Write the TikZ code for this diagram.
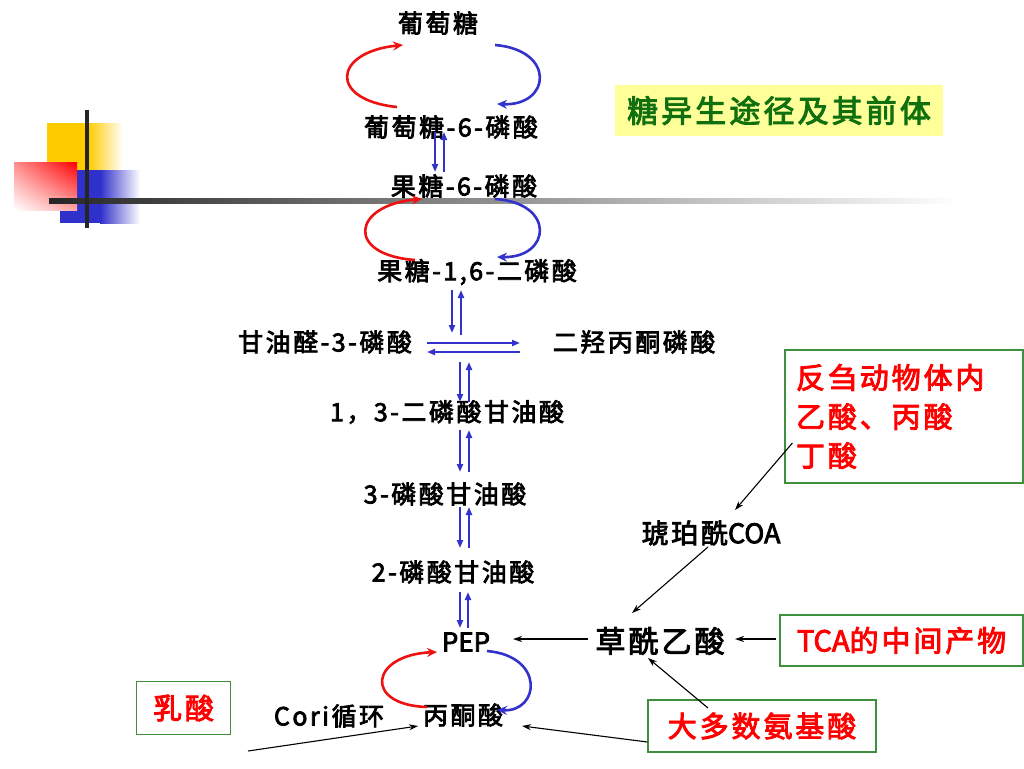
\documentclass[tikz,border=0pt]{standalone}
\usepackage{fontspec}
\newfontfamily\cjk{Noto Sans CJK SC}[FakeBold=3,LetterSpace=10]
\newfontfamily\cjkn{Noto Sans CJK SC}[FakeBold=3]
\usetikzlibrary{arrows.meta,calc,shadings}
\definecolor{pblue}{HTML}{3333CC}
\definecolor{pred}{HTML}{EE1111}
\definecolor{tred}{HTML}{FF0000}
\definecolor{tgreen}{HTML}{107010}
\definecolor{bgreen}{HTML}{3F8F3F}
\definecolor{tyellow}{HTML}{FFFF99}
\definecolor{dyellow}{HTML}{FFCC00}
\definecolor{dblue}{HTML}{3030CC}
\begin{document}
\begin{tikzpicture}[x=1pt,y=-1pt,
  lbl/.style={font=\cjk\fontsize{25}{25}\selectfont, inner sep=0pt, anchor=center},
  gbox/.style={draw=bgreen, line width=1.2pt, fill=white, font=\cjk\fontsize{29}{29}\selectfont, text=tred, inner sep=0pt},
  rarc/.style={draw=pred, line width=2.6pt, -{Stealth[length=10pt,width=9pt]}},
  barc/.style={draw=pblue, line width=2.6pt, -{Stealth[length=10pt,width=9pt]}},
  varrow/.style={draw=pblue, line width=2.2pt, -{Triangle[length=8pt,width=6pt]}},
  blk/.style={draw=black, line width=1.1pt, -{Stealth[length=9pt,width=6pt]}}
]
\useasboundingbox (0,0) rectangle (1024,768);
% decoration
\fill[dyellow] (47,123) rectangle (88,170);
\shade[left color=dyellow, right color=white] (88,123) rectangle (123,170);
\fill[dblue] (60,170) rectangle (100,223);
\shade[left color=dblue, right color=white] (100,170) rectangle (140,223);
\shade[upper left=red!45, upper right=red, lower left=white, lower right=red!35] (14,162) rectangle (77,210);
\shade[left color=black!85, right color=white] (49,198.5) rectangle (960,203.5);
\fill[black!85] (85,110) rectangle (89,228);
% title
\node[fill=tyellow, minimum width=328pt, minimum height=51pt, inner sep=0pt, text=tgreen, font=\cjk\fontsize{31}{31}\selectfont] (title) at (779,110.5) {糖异生途径及其前体};
% labels
\node[lbl] (glc) at (438,23) {葡萄糖};
\node[lbl] (g6p) at (451,127) {葡萄糖-6-磷酸};
\node[lbl] (f6p) at (464,186) {果糖-6-磷酸};
\node[lbl] (fbp) at (477,272) {果糖-1,6-二磷酸};
\node[lbl] (gap) at (325,342) {甘油醛-3-磷酸};
\node[lbl] (dhap) at (634,342) {二羟丙酮磷酸};
\node[lbl] (bpg) at (447,412) {1，3-二磷酸甘油酸};
\node[lbl] (pgaa) at (445,494) {3-磷酸甘油酸};
\node[lbl] (pgab) at (453,572) {2-磷酸甘油酸};
\node[lbl, font=\cjkn\fontsize{26}{26}\selectfont] (pep) at (466,642) {PEP};
\node[lbl] (pyr) at (463,715) {丙酮酸};
\node[lbl] (cori) at (329,716) {Cori循环};
\node[lbl, font=\cjk\fontsize{30}{30}\selectfont] (oaa) at (660,641) {草酰乙酸};
\node[lbl, font=\cjk\fontsize{27}{27}\selectfont] (succ) at (711,533) {琥珀酰{\cjkn COA}};
% boxes
\node[gbox, minimum width=243pt, minimum height=51pt] (tca) at (901.5,640.5) {{\cjkn TCA}的中间产物};
\node[gbox, minimum width=228pt, minimum height=52pt] (aa) at (762,726) {大多数氨基酸};
\node[gbox, minimum width=94pt, minimum height=53pt] (lac) at (183.5,708) {乳酸};
\node[gbox, minimum width=238pt, minimum height=133pt, inner xsep=11pt, text width=216pt, align=left, font=\cjk\fontsize{29}{39}\selectfont] (rum) at (904,416.5) {反刍动物体内\\乙酸、丙酸\\丁酸};
% arcs
\draw[rarc] ($(g6p)+(-54,-20)$) .. controls ($(g6p)+(-123,-27)$) and ($(glc)+(-105,29)$) .. ($(glc)+(-35,22)$);
\draw[barc] ($(glc)+(57,22)$) .. controls ($(glc)+(118,27)$) and ($(g6p)+(100,-21)$) .. ($(g6p)+(46,-23)$);
\draw[rarc] ($(fbp)+(-62,-12)$) .. controls ($(fbp)+(-132,-17)$) and ($(f6p)+(-112,19)$) .. ($(f6p)+(-42,13)$);
\draw[barc] ($(f6p)+(31,13)$) .. controls ($(f6p)+(92,17)$) and ($(fbp)+(74,-14)$) .. ($(fbp)+(20,-15)$);
\draw[rarc] ($(pyr)+(-36,-8)$) .. controls ($(pyr)+(-100,-10)$) and ($(pep)+(-96,13)$) .. ($(pep)+(-29,10)$);
\draw[barc] ($(pep)+(21,9)$) .. controls ($(pep)+(79,14)$) and ($(pyr)+(77,-3)$) .. ($(pyr)+(34,-5)$);
% reversible arrows
\draw[varrow] ($(g6p)+(-16,5)$) -- ($(f6p)+(-29,-14)$);
\draw[varrow] ($(f6p)+(-20,-14)$) -- ($(g6p)+(-7,5)$);
\draw[varrow] ($(fbp)+(-25,18)$) -- ($(gap)+(127,-9)$);
\draw[varrow] ($(gap)+(136,-7)$) -- ($(fbp)+(-16,18)$);
\draw[varrow] ($(gap)+(102,1)$) -- ($(dhap)+(-114,1)$);
\draw[varrow] ($(dhap)+(-114,10)$) -- ($(gap)+(102,10)$);
\draw[varrow] ($(gap)+(135,20)$) -- ($(bpg)+(13,-10)$);
\draw[varrow] ($(bpg)+(22,-10)$) -- ($(gap)+(144,20)$);
\draw[varrow] ($(bpg)+(13,18)$) -- ($(pgaa)+(15,-22)$);
\draw[varrow] ($(pgaa)+(24,-22)$) -- ($(bpg)+(22,18)$);
\draw[varrow] ($(pgaa)+(15,13)$) -- ($(pgab)+(7,-24)$);
\draw[varrow] ($(pgab)+(16,-24)$) -- ($(pgaa)+(24,13)$);
\draw[varrow] ($(pgab)+(7,20)$) -- ($(pep)+(-6,-14)$);
\draw[varrow] ($(pep)+(2,-14)$) -- ($(pgab)+(15,20)$);
% black arrows
\draw[blk] ($(oaa)+(-72,-2)$) -- ($(pep)+(47,-3)$);
\draw[blk] ($(tca.west)+(-3,-1.5)$) -- ($(oaa)+(75,-2)$);
\draw[blk] ($(rum.west)+(8,26.5)$) -- ($(succ)+(24,-23)$);
\draw[blk] ($(succ)+(-3,14)$) -- ($(oaa)+(-28,-28)$);
\draw[blk] ($(aa)+(-54,-18)$) -- ($(oaa)+(-12,17)$);
\draw[blk] ($(aa.west)+(0,16)$) -- ($(pyr)+(59,11)$);
\coordinate (coristart) at (248,751);
\draw[blk] (coristart) -- ($(pyr)+(-45,11)$);
\end{tikzpicture}
\end{document}
